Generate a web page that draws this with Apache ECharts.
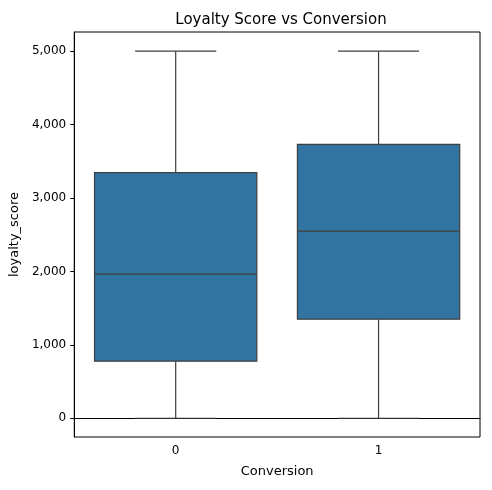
<!DOCTYPE html>
<html>
<head>
<meta charset="utf-8">
<script src="https://cdn.jsdelivr.net/npm/echarts@6/dist/echarts.min.js"></script>
</head>
<body style="margin:0">
<div id="main" style="width:492px;height:490px"></div>
<script>
var categories = ['0', '1'];
// [min, Q1, median, Q3, max]
var boxes = [
  [0, 777, 1962, 3345, 5000],
  [0, 1349, 2548, 3729, 5000]
];
var tickValues = [0, 1000, 2000, 3000, 4000, 5000];

var chart = echarts.init(document.getElementById('main'));
var font = 'DejaVu Sans';
chart.setOption({
  animation: false,
  backgroundColor: '#fff',
  title: {
    text: 'Loyalty Score vs Conversion', left: 276, top: 8, textAlign: 'center',
    textStyle: { fontFamily: font, fontSize: 15, fontWeight: 'normal', color: '#000' }
  },
  grid: { left: 72, right: 12, top: 32, bottom: 53, show: true, borderColor: '#000', borderWidth: 1 },
  xAxis: {
    type: 'category', data: categories,
    name: 'Conversion', nameLocation: 'middle', nameGap: 28,
    nameTextStyle: { fontFamily: font, fontSize: 13, color: '#000' },
    axisLine: { lineStyle: { color: '#000' } },
    axisTick: { alignWithLabel: true, length: 4, lineStyle: { color: '#000' } },
    axisLabel: { fontFamily: font, fontSize: 12, color: '#000', margin: 8 }
  },
  yAxis: {
    type: 'value', min: -255, max: 5260,
    name: 'loyalty_score', nameLocation: 'middle', nameGap: 50,
    nameTextStyle: { fontFamily: font, fontSize: 13, color: '#000' },
    splitLine: { show: false },
    axisLine: { show: true, lineStyle: { color: '#000' } },
    axisTick: { show: true, length: 4, customValues: tickValues, lineStyle: { color: '#000' } },
    axisLabel: { fontFamily: font, fontSize: 12, color: '#000', customValues: tickValues }
  },
  series: [{
    type: 'custom',
    data: boxes.map(function (b, i) { return [i].concat(b); }),
    encode: { x: 0, y: [1, 2, 3, 4, 5] },
    renderItem: function (params, api) {
      var i = api.value(0);
      var bw = api.size([1, 0])[0];
      var pts = [1, 2, 3, 4, 5].map(function (k) { return api.coord([i, api.value(k)]); });
      var x = pts[0][0], hb = bw * 0.4, hc = bw * 0.2;
      var ls = { stroke: '#3f3f3f', lineWidth: 1.2 };
      return {
        type: 'group', children: [
          { type: 'line', shape: { x1: x, y1: pts[0][1], x2: x, y2: pts[1][1] }, style: ls },
          { type: 'line', shape: { x1: x, y1: pts[3][1], x2: x, y2: pts[4][1] }, style: ls },
          { type: 'line', shape: { x1: x - hc, y1: pts[0][1], x2: x + hc, y2: pts[0][1] }, style: ls },
          { type: 'line', shape: { x1: x - hc, y1: pts[4][1], x2: x + hc, y2: pts[4][1] }, style: ls },
          { type: 'rect', shape: { x: x - hb, y: pts[3][1], width: 2 * hb, height: pts[1][1] - pts[3][1] },
            style: { fill: '#3274a1', stroke: '#3f3f3f', lineWidth: 1.2 } },
          { type: 'line', shape: { x1: x - hb, y1: pts[2][1], x2: x + hb, y2: pts[2][1] }, style: ls }
        ]
      };
    }
  }]
});
</script>
</body>
</html>
